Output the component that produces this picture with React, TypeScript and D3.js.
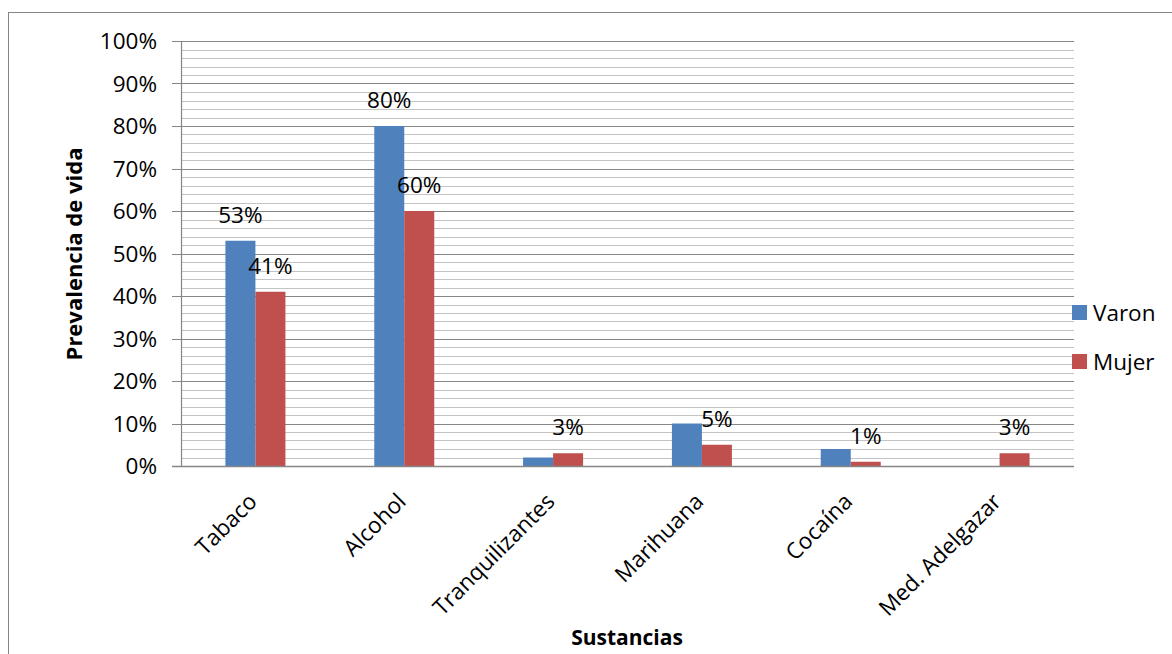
import * as d3 from 'd3';

const categories = ['Tabaco', 'Alcohol', 'Tranquilizantes', 'Marihuana', 'Cocaína', 'Med. Adelgazar'];
const seriesNames = ['Varon', 'Mujer'];
const varonValues = [53, 80, 2, 10, 4, 0];
const mujerValues = [41, 60, 3, 5, 1, 3];
// labels Excel kept visible (the others were deleted in the source chart)
const varonLabels = [true, true, false, false, false, false];
const mujerLabels = [true, true, true, true, true, true];
const yTicks = [0, 10, 20, 30, 40, 50, 60, 70, 80, 90, 100];

const COLORS = { Varon: '#4f81bd', Mujer: '#c0504d' };
const FONT = '"Open Sans", "DejaVu Sans", sans-serif';

const W = 1172;
const H = 654;
const plot = { left: 181, right: 1074, top: 41, bottom: 466 };

export default function App() {
  const x = d3.scaleBand<string>().domain(categories).range([plot.left, plot.right]).padding(0);
  const bw = x.bandwidth();
  const xs = d3.scaleBand<string>().domain(seriesNames).range([bw / 2 - 30, bw / 2 + 30]).padding(0);
  const y = d3.scaleLinear().domain([0, 100]).range([plot.bottom, plot.top]);
  const minor = d3.range(0, 101, 2).filter(v => v % 10 !== 0);

  const rows = categories.map((c, i) => ({
    cat: c,
    vals: [
      { s: 'Varon', v: varonValues[i], show: varonLabels[i] },
      { s: 'Mujer', v: mujerValues[i], show: mujerLabels[i] },
    ],
  }));

  return (
    <div style={{ position: 'fixed', left: 0, top: 0, width: W, height: H, background: '#fff' }}>
      <svg width={W} height={H} style={{ display: 'block' }} fontFamily={FONT}>
        <rect x={0} y={0} width={W} height={H} fill="#fff" />
        <rect x={8.5} y={12.5} width={W + 20} height={H + 20} fill="none" stroke="#868686" />

        {/* gridlines */}
        {minor.map(v => (
          <line key={'m' + v} x1={plot.left} x2={plot.right} y1={Math.round(y(v)) + 0.5} y2={Math.round(y(v)) + 0.5}
            stroke="#c4c4c4" strokeWidth={1.2} />
        ))}
        {yTicks.map(v => (
          <line key={'g' + v} x1={plot.left - 9} x2={plot.right} y1={Math.round(y(v)) + 0.5} y2={Math.round(y(v)) + 0.5}
            stroke="#868686" strokeWidth={1.2} />
        ))}
        <line x1={plot.left + 0.5} x2={plot.left + 0.5} y1={plot.top} y2={plot.bottom} stroke="#868686" strokeWidth={1.2} />

        {/* bars */}
        {rows.map(r => (
          <g key={r.cat} transform={`translate(${x(r.cat)},0)`}>
            {r.vals.map(d => (
              <rect key={d.s} x={xs(d.s)} y={y(d.v)} width={xs.bandwidth()} height={y(0) - y(d.v)}
                fill={COLORS[d.s as keyof typeof COLORS]} />
            ))}
          </g>
        ))}
        <line x1={plot.left - 9} x2={plot.right} y1={Math.round(y(0)) + 0.5} y2={Math.round(y(0)) + 0.5} stroke="#868686" strokeWidth={1.5} />

        {/* data labels */}
        {rows.map(r =>
          r.vals.filter(d => d.show).map(d => (
            <text key={r.cat + d.s} x={(x(r.cat) ?? 0) + (xs(d.s) ?? 0) + xs.bandwidth() / 2} y={y(d.v) - 18}
              textAnchor="middle" fontSize={22.5} fill="#000">{d.v}%</text>
          ))
        )}

        {/* y ticks */}
        {yTicks.map(v => (
          <text key={'t' + v} x={157} y={y(v)} dy="0.36em" textAnchor="end" fontSize={22.5} fill="#000">{v}%</text>
        ))}

        {/* x category labels */}
        {categories.map(c => (
          <text key={c} transform={`translate(${(x(c) ?? 0) + bw / 2 + 3},503) rotate(-45)`}
            textAnchor="end" fontSize={22.5} fill="#000">{c}</text>
        ))}

        {/* axis titles */}
        <text transform="translate(82,254) rotate(-90)" textAnchor="middle" fontSize={22} fontWeight="bold" fill="#000">
          Prevalencia de vida
        </text>
        <text x={627} y={645} textAnchor="middle" fontSize={21} fontWeight="bold" fill="#000">Sustancias</text>

        {/* legend */}
        {seriesNames.map((s, i) => (
          <g key={s} transform={`translate(1072,${305 + i * 49})`}>
            <rect width={15} height={15} fill={COLORS[s as keyof typeof COLORS]} />
            <text x={21} y={7.5} dy="0.36em" fontSize={22.5} fill="#000">{s}</text>
          </g>
        ))}
      </svg>
    </div>
  );
}
